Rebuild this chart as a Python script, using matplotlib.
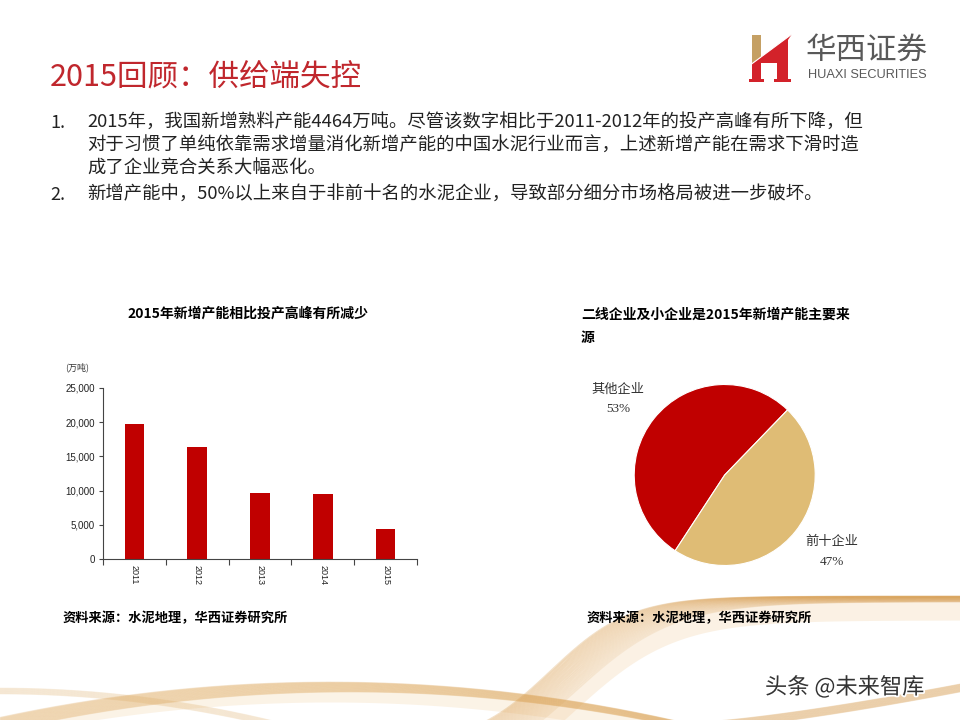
import numpy as np
import matplotlib
matplotlib.use("Agg")
import matplotlib.pyplot as plt
from matplotlib.patches import Polygon, Rectangle
from matplotlib.ticker import FuncFormatter
import matplotlib.patheffects as pe

plt.rcParams['font.family'] = ['Noto Sans CJK SC', 'DejaVu Sans']

# ---------------- data ----------------
years = ['2011', '2012', '2013', '2014', '2015']
new_capacity = [19650, 16300, 9600, 9480, 4464]      # 万吨
yticks = [0, 5000, 10000, 15000, 20000, 25000]

pie_labels = ['其他企业', '前十企业']
pie_values = [53, 47]

title = '2015回顾：供给端失控'
body_lines = [
    ('1.', '2015年，我国新增熟料产能4464万吨。尽管该数字相比于2011-2012年的投产高峰有所下降，但'),
    ('', '对于习惯了单纯依靠需求增量消化新增产能的中国水泥行业而言，上述新增产能在需求下滑时造'),
    ('', '成了企业竞合关系大幅恶化。'),
    ('2.', '新增产能中，50%以上来自于非前十名的水泥企业，导致部分细分市场格局被进一步破坏。'),
]
bar_title = '2015年新增产能相比投产高峰有所减少'
pie_title = ['二线企业及小企业是2015年新增产能主要来', '源']
source = '资料来源：水泥地理，华西证券研究所'
unit = '(万吨)'

RED = '#C00000'
GOLD = '#DFBC75'
TITLE_RED = '#C0272D'

W, H = 960, 720
fig = plt.figure(figsize=(9.6, 7.2), dpi=100)
fig.patch.set_facecolor('white')

def fx(px):
    return px / W

def fy(py):
    return 1 - py / H

# ---------------- background waves (decoration) ----------------
bg = fig.add_axes([0, 0, 1, 1], zorder=0)
bg.set_xlim(0, W)
bg.set_ylim(H, 0)
bg.axis('off')

xa = np.linspace(200, 960, 400)
for i in range(40):
    t = i / 39
    ya = 596 + 6 * t + (150 + 30 * t) / (1 + np.exp((xa - (550 + 25 * t)) / (40 + 10 * t)))
    bg.plot(xa, ya, color='#D4923C', lw=0.6, alpha=0.28 * (1 - 0.6 * t))
upper = 596 + 150 / (1 + np.exp((xa - 550) / 40))
lower = 602 + 180 / (1 + np.exp((xa - 575) / 50)) + 18
bg.fill_between(xa, upper, np.minimum(lower, 720), color='#E9B56E', alpha=0.18, lw=0)

xb = np.linspace(0, 720, 300)
for i in range(30):
    t = i / 29
    yb = 682 + 10 * t + 42 * ((xb - 330 - 20 * t) / 360) ** 2
    bg.plot(xb, yb, color='#DDA354', lw=0.6, alpha=0.22)
yb0 = 682 + 42 * ((xb - 330) / 360) ** 2
bg.fill_between(xb, yb0, np.minimum(yb0 + 20, 720), color='#EEC385', alpha=0.20, lw=0)

xc = np.linspace(700, 960, 200)
for i in range(20):
    t = i / 19
    yc = 722 - 38 * ((xc - 700) / 260) ** 1.3 + 8 * t
    bg.plot(xc, yc, color='#D4923C', lw=0.6, alpha=0.25)

xd = np.linspace(0, 340, 200)
for i in range(16):
    t = i / 15
    yd = 688 + 6 * t + 45 * (xd / 320) ** 2
    bg.plot(xd, yd, color='#E2B06A', lw=0.5, alpha=0.18)

# ---------------- header ----------------
fig.text(fx(50), fy(77), title, fontsize=22, color=TITLE_RED, ha='left', va='center')

# logo
logo = fig.add_axes([0, 0, 1, 1], zorder=1)
logo.set_xlim(0, W)
logo.set_ylim(H, 0)
logo.axis('off')
LRED = '#D3222A'
def yl(xx):
    return 63.7 - (29.7 / 40.0) * (xx - 752)
logo.add_patch(Polygon([(752, 35), (761, 35), (761, yl(761)), (752, yl(752))], closed=True, color='#C5A064', lw=0))
logo.add_patch(Polygon([(752, yl(752)), (792, yl(792)), (788, yl(788) + 3), (788, 82), (777, 82), (777, 63),
                        (761, 63), (761, 82), (752, 82)], closed=True, color=LRED, lw=0))
logo.add_patch(Rectangle((749, 79), 15, 3, color=LRED, lw=0))
logo.add_patch(Rectangle((774, 79), 17, 3, color=LRED, lw=0))
logo.plot([752, 792], [yl(752), yl(792)], color='white', lw=0.8)

fig.text(fx(806), fy(50), '华西证券', fontsize=22, color='#595959', ha='left', va='center')
fig.text(fx(808), fy(75), 'HUAXI SECURITIES', fontsize=9.2, color='#595959', ha='left', va='center',
         family=['Liberation Sans', 'DejaVu Sans'])

# body
body_y = [123, 146, 169, 195]
for (num, line), y in zip(body_lines, body_y):
    if num:
        fig.text(fx(50), fy(y), num, fontsize=13, color='#222222', ha='left', va='center')
    fig.text(fx(87), fy(y), line, fontsize=13.2, color='#222222', ha='left', va='center')

# ---------------- bar chart ----------------
ax = fig.add_axes([fx(103), fy(559.3), fx(314), (559.3 - 387.7) / H], zorder=2)
ax.patch.set_alpha(0)
x = np.arange(len(years))
ax.bar(x, new_capacity, width=0.31, color=RED)
ax.set_xlim(-0.5, len(years) - 0.5)
ax.set_ylim(0, 25000)
ax.set_yticks(yticks)
ax.yaxis.set_major_formatter(FuncFormatter(lambda v, p: f'{int(v):,}'))
ax.set_xticks(x)
ax.set_xticklabels(years, rotation=270, fontsize=6.5, family=['Liberation Sans'])
ax.set_xticks(np.arange(-0.5, len(years)), minor=True)
ax.tick_params(axis='x', which='major', length=0, pad=4, colors='#222222')
ax.tick_params(axis='x', which='minor', length=4, direction='out', color='#444444', width=0.8)
ax.tick_params(axis='y', length=3, direction='out', color='#444444', width=0.8, labelsize=7, pad=3,
               labelcolor='#222222')
for lab in ax.get_yticklabels():
    lab.set_family(['Liberation Sans'])
for s in ['top', 'right']:
    ax.spines[s].set_visible(False)
for s in ['left', 'bottom']:
    ax.spines[s].set_color('#444444')
    ax.spines[s].set_linewidth(0.8)

fig.text(fx(65), fy(367), unit, fontsize=6.5, color='#333333', ha='left', va='center')
fig.text(fx(248), fy(314), bar_title, fontsize=10, fontweight='bold', color='black', ha='center', va='center')
fig.text(fx(63), fy(618), source, fontsize=9.5, fontweight='bold', color='black', ha='left', va='center')

# ---------------- pie chart ----------------
cx, cy, r = 724.7, 475, 90.5
pax = fig.add_axes([fx(cx - r), fy(cy + r), fx(2 * r), 2 * r / H], zorder=2)
pax.pie(pie_values, colors=[RED, GOLD], startangle=46, counterclock=True,
        wedgeprops=dict(edgecolor='white', linewidth=0.8))
pax.set_xlim(-1, 1)
pax.set_ylim(-1, 1)
pax.set_aspect('equal')
pax.axis('off')
label_pos = [(-1.18, 0.95), (1.18, -0.74)]
for lab, val, (lx, ly) in zip(pie_labels, pie_values, label_pos):
    pax.text(lx, ly, lab, fontsize=9.5, color='#333333', ha='center', va='center', clip_on=False)
    pax.text(lx, ly - 0.225, f'{val}%', fontsize=9.5, color='#333333', ha='center', va='center',
             clip_on=False, family=['Liberation Serif', 'DejaVu Serif'])

fig.text(fx(581), fy(315), pie_title[0], fontsize=10, fontweight='bold', color='black', ha='left', va='center')
fig.text(fx(581), fy(338), pie_title[1], fontsize=10, fontweight='bold', color='black', ha='left', va='center')
fig.text(fx(587), fy(618), source, fontsize=9.5, fontweight='bold', color='black', ha='left', va='center')

# watermark
fig.text(fx(765), fy(687), '头条 @未来智库', fontsize=16, color='#333333', ha='left', va='center',
         path_effects=[pe.withStroke(linewidth=2.5, foreground='white')])

fig.savefig('out.png', dpi=100)
